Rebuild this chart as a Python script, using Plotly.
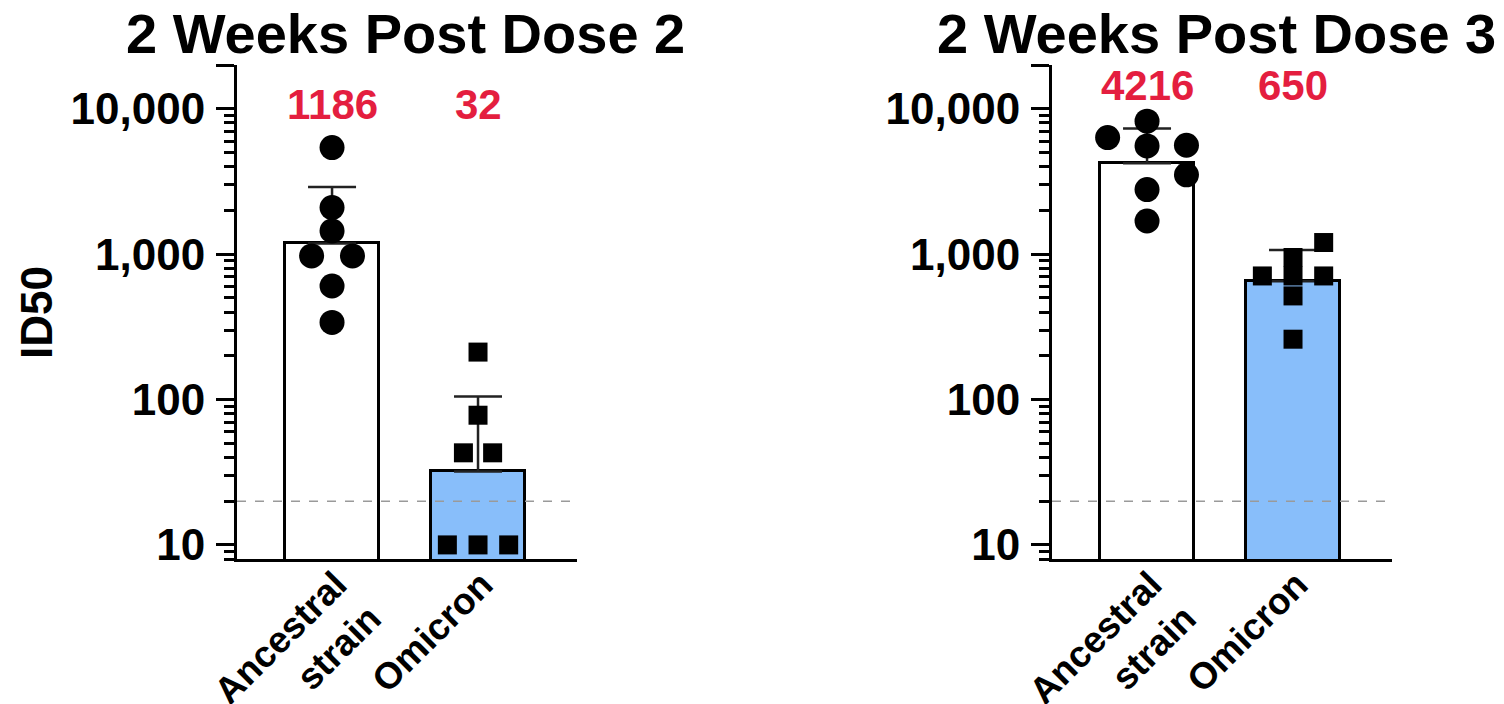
import math
import plotly.graph_objects as go

# ---------------- data ----------------
categories = ["Ancestral<br>strain", "Omicron"]
panel_titles = ["2 Weeks Post Dose 2", "2 Weeks Post Dose 3"]

# geometric mean titres (bar heights / red labels)
gmt_dose2 = [1186, 32]
gmt_dose3 = [4216, 650]

# upper end of the error bars
err_top_dose2 = [2900, 105]
err_top_dose3 = [7310, 1069]

# individual animals
d2_ancestral = [5410, 2090, 1445, 972, 972, 604, 339]
d2_ancestral_jit = [0, 0, 0, -0.14, 0.14, 0, 0]
d2_omicron = [212, 78, 43, 43, 10, 10, 10]
d2_omicron_jit = [0, 0, -0.10, 0.10, -0.21, 0, 0.21]

d3_ancestral = [8220, 6340, 5550, 5610, 3510, 2780, 1690]
d3_ancestral_jit = [0, -0.27, 0, 0.27, 0.27, 0, 0]
d3_omicron = [1202, 708, 708, 948, 708, 516, 260]
d3_omicron_jit = [0.21, -0.21, 0.21, 0, 0, 0, 0]

detection_limit = 20
y_min, y_max = 8, 20000
major_ticks = [10, 100, 1000, 10000, 20000]
major_text = ["10", "100", "1,000", "10,000", ""]

# ---------------- styling ----------------
FONT = "Liberation Sans, Arial, Helvetica, sans-serif"
RED = "#E41E3F"
BLUE = "#88BEFA"
W, H = 1504, 704
OFF = 8  # page body margin


def px_x(p):
    return (p - OFF) / W


def px_y(p):
    return 1 - (p - OFF) / H


x_domains = [[px_x(237), px_x(577)], [px_x(1052), px_x(1392)]]
y_domain = [px_y(559), px_y(65)]
label_y_px = [104, 85]
title_x_px = [405, 1216]

minor_vals = [8, 9] + [d * 10 ** k for k in range(1, 4) for d in range(2, 10)]

fig = go.Figure()

panels = [
    (gmt_dose2, err_top_dose2, d2_ancestral, d2_ancestral_jit, d2_omicron, d2_omicron_jit),
    (gmt_dose3, err_top_dose3, d3_ancestral, d3_ancestral_jit, d3_omicron, d3_omicron_jit),
]

for i, (gmt, etop, anc, anc_j, omi, omi_j) in enumerate(panels):
    xa = "x" if i == 0 else "x2"
    ya = "y" if i == 0 else "y2"
    fig.add_trace(go.Bar(
        x=[0, 1], y=gmt, xaxis=xa, yaxis=ya, width=0.64,
        marker=dict(color=["white", BLUE], line=dict(color="black", width=3)),
        error_y=dict(type="data", symmetric=False,
                     array=[t - g for t, g in zip(etop, gmt)],
                     arrayminus=[0, 0], thickness=2.5, width=24, color="#222222"),
        showlegend=False, hoverinfo="skip",
    ))
    fig.add_trace(go.Scatter(
        x=[0 + j for j in anc_j], y=anc, xaxis=xa, yaxis=ya, mode="markers",
        marker=dict(symbol="circle", size=25, color="black"),
        showlegend=False, hoverinfo="skip",
    ))
    fig.add_trace(go.Scatter(
        x=[1 + j for j in omi_j], y=omi, xaxis=xa, yaxis=ya, mode="markers",
        marker=dict(symbol="square", size=19, color="black"),
        showlegend=False, hoverinfo="skip",
    ))
    # detection limit
    fig.add_shape(type="line", xref=f"{xa} domain", yref=ya, x0=0, x1=1,
                  y0=detection_limit, y1=detection_limit,
                  line=dict(color="#9a9a9a", width=1.5, dash="dash"), layer="above")
    # red GMT labels
    for k in range(2):
        fig.add_annotation(x=k, xref=xa, y=px_y(label_y_px[i]), yref="paper",
                           xanchor="center", yanchor="middle",
                           text=str(gmt[k]), showarrow=False,
                           font=dict(family=FONT, size=42, color=RED, weight="bold"))
    # panel title
    fig.add_annotation(x=px_x(title_x_px[i]), xref="paper", y=px_y(33), yref="paper",
                       xanchor="center", yanchor="middle",
                       text=panel_titles[i], showarrow=False,
                       font=dict(family=FONT, size=56, color="black", weight="bold"))

fig.add_annotation(x=px_x(36), xref="paper", y=px_y(313), yref="paper",
                   xanchor="center", yanchor="middle",
                   text="ID50", textangle=-90, showarrow=False,
                   font=dict(family=FONT, size=44, color="black", weight="bold"))

xaxis_style = dict(
    range=[-0.651, 1.678], tickvals=[0, 1], ticktext=categories, tickangle=-45,
    showline=True, linecolor="black", linewidth=3, ticks="", showgrid=False,
    zeroline=False, tickfont=dict(family=FONT, size=37, color="black", weight="bold"),
    ticklabelstandoff=-14, ticklabelshift=4,
    fixedrange=True, automargin=False,
)
yaxis_style = dict(
    type="log", range=[math.log10(y_min), math.log10(y_max)],
    tickmode="array", tickvals=major_ticks, ticktext=major_text,
    ticks="outside", ticklen=18, tickwidth=3, tickcolor="black",
    ticklabelstandoff=2,
    minor=dict(tickmode="array", tickvals=minor_vals, ticks="outside",
               ticklen=10, tickwidth=2.5, tickcolor="black", showgrid=False),
    showline=True, linecolor="black", linewidth=3, showgrid=False, zeroline=False,
    tickfont=dict(family=FONT, size=44, color="black", weight="bold"),
    domain=y_domain, automargin=False,
)

fig.update_layout(
    width=W, height=H, plot_bgcolor="white", paper_bgcolor="white",
    margin=dict(l=0, r=0, t=0, b=0, pad=0, autoexpand=False), bargap=0,
    xaxis=dict(domain=x_domains[0], anchor="y", **xaxis_style),
    xaxis2=dict(domain=x_domains[1], anchor="y2", **xaxis_style),
    yaxis=dict(anchor="x", **yaxis_style),
    yaxis2=dict(anchor="x2", **yaxis_style),
    font=dict(family=FONT, color="black"),
)

fig.write_html("out.html")
